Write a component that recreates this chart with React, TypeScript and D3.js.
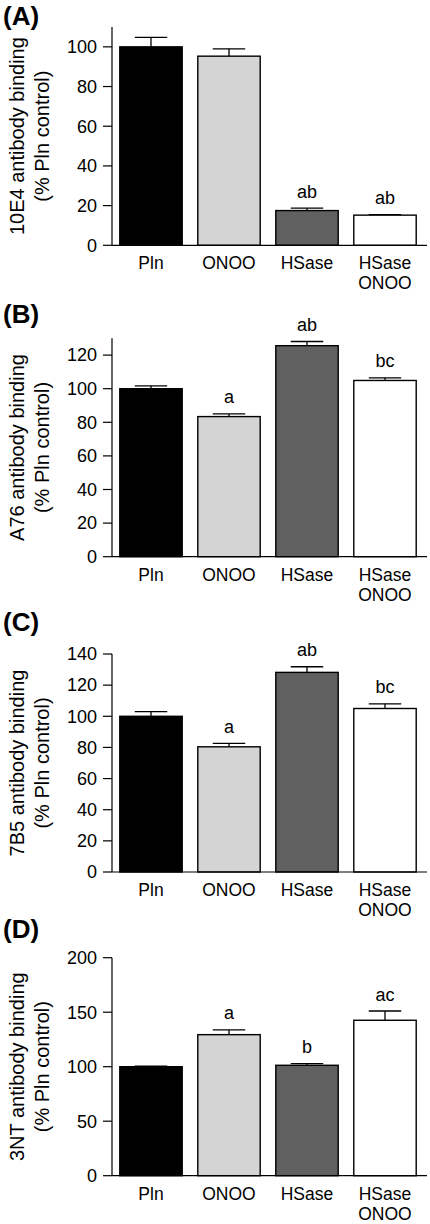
import React from "react";
import * as d3 from "d3";

const categories = ["Pln", "ONOO", "HSase", "HSase ONOO"];
const categoryLines = [["Pln"], ["ONOO"], ["HSase"], ["HSase", "ONOO"]];
const barColors = ["#000000", "#d4d4d4", "#606060", "#ffffff"];

const panelLetters = ["(A)", "(B)", "(C)", "(D)"];
const yLabels = ["10E4 antibody binding", "A76 antibody binding", "7B5 antibody binding", "3NT antibody binding"];
const yLabel2 = "(% Pln control)";

const valuesA = [100, 95.3, 17.5, 15.2];
const errorsA = [4.8, 3.7, 1.2, 0.2];
const marksA = ["", "", "ab", "ab"];
const ticksA = [0, 20, 40, 60, 80, 100];
const maxA = 110;

const valuesB = [100, 83.4, 125.6, 104.9];
const errorsB = [1.7, 1.6, 2.5, 1.6];
const marksB = ["", "a", "ab", "bc"];
const ticksB = [0, 20, 40, 60, 80, 100, 120];
const maxB = 130;

const valuesC = [100, 80.4, 128.2, 105];
const errorsC = [3, 2.2, 3.6, 3];
const marksC = ["", "a", "ab", "bc"];
const ticksC = [0, 20, 40, 60, 80, 100, 120, 140];
const maxC = 140;

const valuesD = [100, 129.4, 101.3, 142.6];
const errorsD = [0.6, 4.3, 1.5, 8.5];
const marksD = ["", "a", "b", "ac"];
const ticksD = [0, 50, 100, 150, 200];
const maxD = 200;

const FONT = "'Liberation Sans', Arial, Helvetica, sans-serif";

type PanelProps = {
  letter: string;
  yLabel: string;
  values: number[];
  errors: number[];
  marks: string[];
  ticks: number[];
  max: number;
  top: number;
  zero: number;
  letterY: number;
};

function Panel(p: PanelProps) {
  const axisX = 112;
  const x = d3.scaleBand<string>().domain(categories).range([112, 424]).paddingInner(0.2).paddingOuter(0.1);
  const y = d3.scaleLinear().domain([0, p.max]).range([p.zero, p.top]);
  const bw = x.bandwidth();
  const capHalf = bw * 0.26;
  const midY = (p.zero + p.top) / 2;
  return (
    <g>
      <text x={3} y={p.letterY} fontFamily={FONT} fontWeight="bold" fontSize={26} fill="#000">
        {p.letter}
      </text>
      <g transform={`translate(17,${midY}) rotate(-90)`}>
        <text x={0} y={0} dy="0.35em" textAnchor="middle" fontFamily={FONT} fontSize={20} fill="#000">
          {p.yLabel}
        </text>
        <text x={0} y={25} dy="0.35em" textAnchor="middle" fontFamily={FONT} fontSize={20} fill="#000">
          {yLabel2}
        </text>
      </g>
      {/* bars */}
      {categories.map((c, i) => {
        const x0 = x(c) as number;
        const cx = x0 + bw / 2;
        const yv = y(p.values[i]);
        const ye = y(p.values[i] + p.errors[i]);
        return (
          <g key={c}>
            <line x1={cx} x2={cx} y1={yv} y2={ye} stroke="#000" strokeWidth={1.3} />
            <line x1={cx - capHalf} x2={cx + capHalf} y1={ye} y2={ye} stroke="#000" strokeWidth={1.3} />
            <rect x={x0} y={yv} width={bw} height={p.zero - yv} fill={barColors[i]} stroke="#000" strokeWidth={1.4} />
            {p.marks[i] ? (
              <text x={cx} y={ye - 10.5} textAnchor="middle" fontFamily={FONT} fontSize={18} fill="#000">
                {p.marks[i]}
              </text>
            ) : null}
            {categoryLines[i].map((ln, j) => (
              <text key={j} x={cx} y={p.zero + 24 + j * 20} textAnchor="middle" fontFamily={FONT} fontSize={17.5} fill="#000">
                {ln}
              </text>
            ))}
          </g>
        );
      })}
      {/* axes */}
      <line x1={axisX} x2={axisX} y1={p.zero} y2={p.top} stroke="#000" strokeWidth={1.2} />
      <line x1={axisX} x2={427} y1={p.zero} y2={p.zero} stroke="#000" strokeWidth={1.2} />
      {p.ticks.map((t) => (
        <g key={t}>
          <line x1={axisX - 9} x2={axisX} y1={y(t)} y2={y(t)} stroke="#000" strokeWidth={1.2} />
          <text x={97} y={y(t)} dy="0.35em" textAnchor="end" fontFamily={FONT} fontSize={18} fill="#000">
            {t}
          </text>
        </g>
      ))}
    </g>
  );
}

export default function App() {
  return (
    <svg
      width={430}
      height={1224}
      viewBox="0 0 430 1224"
      style={{ position: "absolute", left: 0, top: 0, display: "block", background: "#fff" }}
    >
      <rect x={0} y={0} width={430} height={1224} fill="#fff" />
      <Panel letter={panelLetters[0]} yLabel={yLabels[0]} values={valuesA} errors={errorsA} marks={marksA} ticks={ticksA} max={maxA} top={27} zero={245.3} letterY={25} />
      <Panel letter={panelLetters[1]} yLabel={yLabels[1]} values={valuesB} errors={errorsB} marks={marksB} ticks={ticksB} max={maxB} top={338.3} zero={556.7} letterY={323} />
      <Panel letter={panelLetters[2]} yLabel={yLabels[2]} values={valuesC} errors={errorsC} marks={marksC} ticks={ticksC} max={maxC} top={654} zero={872} letterY={631} />
      <Panel letter={panelLetters[3]} yLabel={yLabels[3]} values={valuesD} errors={errorsD} marks={marksD} ticks={ticksD} max={maxD} top={957.7} zero={1175.7} letterY={938} />
    </svg>
  );
}
